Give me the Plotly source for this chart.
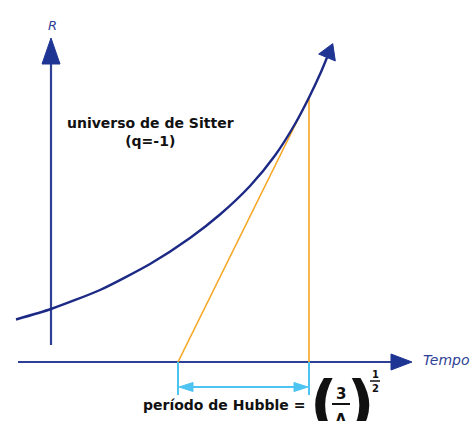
import numpy as np
import plotly.graph_objects as go

# de Sitter expansion curve R(t), axes origin at the R axis / time axis crossing
curve_t = [-35, 0, 49, 99, 139, 169, 199, 224, 244, 258, 270, 276]
curve_R = [42.5, 53, 72, 98, 124, 147.5, 176, 206.5, 238, 264.5, 290, 304.5]

# tangent construction: tangent point and where the tangent meets the time axis
tangent_point = (258, 265)
tangent_intercept_t = 127

# axis extents
time_axis_t = [-33, 361]
r_axis_R = [17, 324]

AXIS_BLUE = "#2e3f96"
HEAD_BLUE = "#1f3594"
CURVE_BLUE = "#1c2a86"
ORANGE = "#f6a623"
SKY = "#4cc3f0"
FONT = "DejaVu Sans"

fig = go.Figure()


def line(xs, ys, color, width):
    fig.add_trace(go.Scatter(x=xs, y=ys, mode="lines",
                             line=dict(color=color, width=width),
                             hoverinfo="skip", showlegend=False))


def head(tip, direction, length, half_width, color):
    d = np.array(direction, float)
    d /= np.linalg.norm(d)
    n = np.array([-d[1], d[0]])
    tip = np.array(tip, float)
    base = tip - d * length
    p1 = base + n * half_width
    p2 = base - n * half_width
    fig.add_trace(go.Scatter(x=[tip[0], p1[0], p2[0], tip[0]],
                             y=[tip[1], p1[1], p2[1], tip[1]],
                             mode="lines", fill="toself", fillcolor=color,
                             line=dict(color=color, width=1),
                             hoverinfo="skip", showlegend=False))


# time axis
h_len = 21
line([time_axis_t[0], time_axis_t[1] - h_len], [0, 0], AXIS_BLUE, 2.2)
head((time_axis_t[1], 0), (1, 0), h_len, 8, HEAD_BLUE)

# R axis
v_len = 26
line([0, 0], [r_axis_R[0], r_axis_R[1] - v_len], AXIS_BLUE, 2.2)
head((0, r_axis_R[1]), (0, 1), v_len, 9, HEAD_BLUE)

# orange tangent and its vertical drop
tx, tR = tangent_point
line([tangent_intercept_t, tx], [0, tR], ORANGE, 1.6)
line([tx, tx], [0, tR], ORANGE, 1.6)

# expansion curve with arrowhead at its end
fig.add_trace(go.Scatter(x=curve_t, y=curve_R, mode="lines",
                         line=dict(color=CURVE_BLUE, width=2.4, shape="spline", smoothing=0.6),
                         hoverinfo="skip", showlegend=False))
c_dir = (curve_t[-1] - curve_t[-2], curve_R[-1] - curve_R[-2])
c_len = 15
cd = np.array(c_dir, float) / np.hypot(*c_dir)
c_tip = (curve_t[-1] + cd[0] * c_len, curve_R[-1] + cd[1] * c_len)
head(c_tip, c_dir, c_len, 9, HEAD_BLUE)

# Hubble period bracket
drop = -33
bar_R = -25
line([tangent_intercept_t, tangent_intercept_t], [0, drop], SKY, 2)
line([tx, tx], [0, drop], SKY, 2)
s_len = 14
line([tangent_intercept_t + s_len, tx - s_len], [bar_R, bar_R], SKY, 2.2)
head((tangent_intercept_t + 1, bar_R), (-1, 0), s_len, 4.5, SKY)
head((tx - 1, bar_R), (1, 0), s_len, 4.5, SKY)

annotations = [
    dict(x=1, y=337, text="<i>R</i>", font=dict(size=13, color=AXIS_BLUE)),
    dict(x=395, y=2, text="<i>Tempo</i>", font=dict(size=14, color=AXIS_BLUE)),
    dict(x=99, y=230, text="<b>universo de de Sitter<br>(q=-1)</b>",
         font=dict(size=14, color="#111111"), align="center"),
    dict(x=172.5, y=-43, text="<b>período de Hubble =</b>",
         font=dict(size=14, color="#111111")),
    dict(x=272, y=-41, text="<b>(</b>", font=dict(size=60, color="#111111")),
    dict(x=309, y=-41, text="<b>)</b>", font=dict(size=60, color="#111111")),
    dict(x=290, y=-32, text="<b>3</b>", font=dict(size=15, color="#111111")),
    dict(x=290, y=-58, text="<b>Λ</b>", font=dict(size=15, color="#111111")),
    dict(x=324, y=-12, text="<b>1</b>", font=dict(size=10, color="#111111")),
    dict(x=324, y=-26, text="<b>2</b>", font=dict(size=10, color="#111111")),
]
for a in annotations:
    a.update(xref="x", yref="y", showarrow=False)
    a["font"]["family"] = FONT

shapes = [
    dict(type="line", xref="x", yref="y", x0=281, x1=299, y0=-42, y1=-42,
         line=dict(color="#111111", width=2)),
    dict(type="line", xref="x", yref="y", x0=319, x1=329, y0=-19, y1=-19,
         line=dict(color="#111111", width=1.5)),
]

fig.update_layout(
    width=474, height=421,
    margin=dict(l=0, r=0, t=0, b=0),
    paper_bgcolor="white", plot_bgcolor="white",
    xaxis=dict(range=[-51, 423], visible=False, fixedrange=True),
    yaxis=dict(range=[-59, 362], visible=False, fixedrange=True),
    annotations=annotations, shapes=shapes,
    showlegend=False,
)

fig.write_html("out.html", config={"displayModeBar": False})
